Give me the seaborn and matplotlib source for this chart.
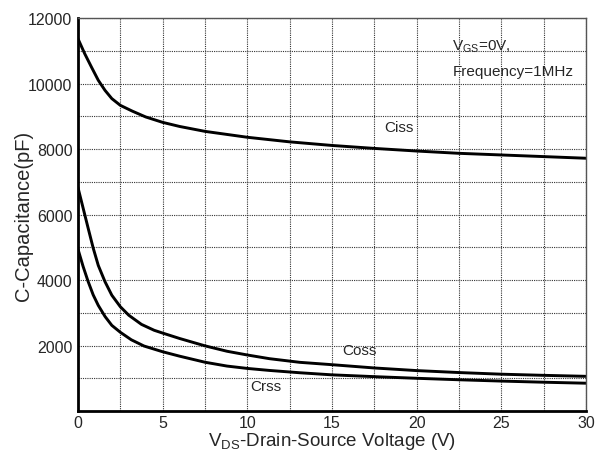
import pandas as pd
import matplotlib
matplotlib.use("Agg")
import matplotlib.pyplot as plt
import seaborn as sns

# Values (V, pF)
ciss_v = [0, 0.4, 0.8, 1.2, 1.6, 2.0, 2.5, 3.2, 4.0, 5.0, 6.0, 7.5, 10, 12.5, 15, 17.5, 20, 22.5, 25, 27.5, 30]
ciss = [11370, 10910, 10500, 10100, 9790, 9540, 9335, 9160, 8980, 8815, 8690, 8540, 8360, 8220, 8110,
        8020, 7940, 7870, 7820, 7770, 7720]

coss_v = [0, 0.3, 0.6, 0.9, 1.2, 1.6, 2.0, 2.5, 3.0, 3.75, 4.5, 5.0, 6.0, 7.5, 8.8, 10, 11.3, 13.1,
          15, 17.5, 20, 22.5, 25, 27.5, 30]
coss = [6830, 6210, 5590, 4980, 4450, 3950, 3540, 3190, 2930, 2650, 2470, 2385, 2220, 1995, 1830, 1716,
        1604, 1492, 1420, 1320, 1240, 1180, 1130, 1095, 1065]

crss_v = [0, 0.3, 0.6, 0.9, 1.2, 1.6, 2.0, 2.5, 3.15, 3.9, 5.0, 6.0, 7.5, 8.8, 10, 11.3, 13.1,
          15, 17.5, 20, 22.5, 25, 27.5, 30]
crss = [4950, 4425, 3960, 3550, 3230, 2890, 2620, 2410, 2180, 1990, 1815, 1680, 1495, 1378, 1306, 1245,
        1174, 1110, 1055, 1005, 960, 920, 885, 855]

df = pd.concat([
    pd.DataFrame({"Vds": ciss_v, "C": ciss, "curve": "Ciss"}),
    pd.DataFrame({"Vds": coss_v, "C": coss, "curve": "Coss"}),
    pd.DataFrame({"Vds": crss_v, "C": crss, "curve": "Crss"}),
], ignore_index=True)

sns.set_style("white")
plt.rcParams["font.family"] = ["Liberation Sans", "DejaVu Sans"]
plt.rcParams["mathtext.fontset"] = "custom"
plt.rcParams["mathtext.rm"] = "Liberation Sans"

fig = plt.figure(figsize=(5.95, 4.52), dpi=100)
ax = fig.add_axes([0.131, 0.088, 0.854, 0.870])

sns.lineplot(data=df, x="Vds", y="C", units="curve", estimator=None, sort=False, color="black",
             linewidth=2.1, ax=ax, legend=False)

ax.set_xlim(0, 30)
ax.set_ylim(0, 12000)
ax.set_xticks([0, 5, 10, 15, 20, 25, 30])
ax.set_xticks([2.5, 7.5, 12.5, 17.5, 22.5, 27.5], minor=True)
ax.set_yticks([2000, 4000, 6000, 8000, 10000, 12000])
ax.set_yticks([1000, 3000, 5000, 7000, 9000, 11000], minor=True)
ax.grid(True, which="both", linestyle=(0, (1, 1)), color="#333333", linewidth=0.8)
ax.tick_params(axis="y", which="both", length=0, labelsize=11.5, pad=4)
ax.tick_params(axis="x", which="both", length=0, labelsize=11.5, pad=3)
ax.set_xticklabels(["0", "5", "10", "15", "20", "25", "30"])

for side in ["left", "bottom"]:
    ax.spines[side].set_linewidth(2)
    ax.spines[side].set_color("black")
for side in ["top", "right"]:
    ax.spines[side].set_linewidth(1)
    ax.spines[side].set_color("#555555")

ax.set_xlabel("V$_{\\mathregular{DS}}$-Drain-Source Voltage (V)", fontsize=13.5, labelpad=0)
ax.set_ylabel("C-Capacitance(pF)", fontsize=14.5)
ax.yaxis.set_label_coords(-0.088, 0.5)

ax.text(18.1, 8550, "Ciss", fontsize=11)
ax.text(15.6, 1750, "Coss", fontsize=11)
ax.text(10.2, 650, "Crss", fontsize=11)
ax.text(22.1, 11050, "V$_{\\mathregular{GS}}$=0V,", fontsize=11)
ax.text(22.1, 10250, "Frequency=1MHz", fontsize=11)

fig.savefig("out.png", dpi=100)
